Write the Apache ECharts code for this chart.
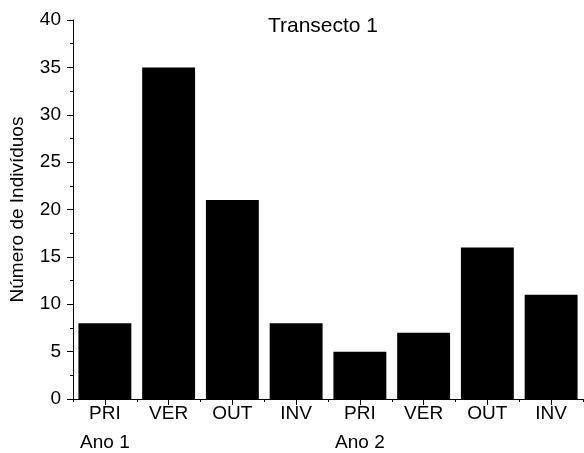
<!DOCTYPE html>
<html>
<head>
<meta charset="utf-8">
<script src="https://cdn.jsdelivr.net/npm/echarts@6/dist/echarts.min.js"></script>
<style>
  html, body { margin: 0; padding: 0; background: #fff; }
  #chart { width: 584px; height: 453px; }
</style>
</head>
<body>
<div id="chart"></div>
<script>
// Seasons sampled over two years at transect 1
const seasons = ['PRI', 'VER', 'OUT', 'INV', 'PRI', 'VER', 'OUT', 'INV'];
const yearLabels = ['Ano 1', '', '', '', 'Ano 2', '', '', ''];
const counts = [8, 35, 21, 8, 5, 7, 16, 11];
const yTicks = [0, 5, 10, 15, 20, 25, 30, 35, 40];

const FONT = 'Liberation Sans, Arial, sans-serif';
const chart = echarts.init(document.getElementById('chart'), null, { renderer: 'canvas' });

chart.setOption({
  animation: false,
  backgroundColor: '#ffffff',
  title: {
    text: 'Transecto 1',
    left: 318,
    top: 11,
    textAlign: 'center',
    textStyle: { fontFamily: FONT, fontSize: 21, fontWeight: 'normal', color: '#000' }
  },
  grid: { left: 72, right: 1, top: 20, bottom: 54, containLabel: false },
  xAxis: [
    {
      // season labels, ticks at category centres
      type: 'category',
      data: seasons,
      position: 'bottom',
      axisLine: { show: true, lineStyle: { color: '#000', width: 1 } },
      axisTick: { show: true, alignWithLabel: true, length: 6, lineStyle: { color: '#000' } },
      axisLabel: { color: '#000', fontFamily: FONT, fontSize: 19, margin: 5 },
      splitLine: { show: false }
    },
    {
      // short ticks on category boundaries
      type: 'category',
      data: seasons,
      position: 'bottom',
      axisLine: { show: false },
      axisTick: { show: true, alignWithLabel: false, length: 3, lineStyle: { color: '#000' } },
      axisLabel: { show: false },
      splitLine: { show: false }
    },
    {
      // year grouping labels
      type: 'category',
      data: yearLabels,
      position: 'bottom',
      offset: 26,
      axisLine: { show: false },
      axisTick: { show: false },
      axisLabel: { color: '#000', fontFamily: FONT, fontSize: 19, margin: 8, interval: 0 },
      splitLine: { show: false }
    }
  ],
  yAxis: {
    type: 'value',
    min: yTicks[0],
    max: yTicks[yTicks.length - 1],
    interval: yTicks[1] - yTicks[0],
    name: 'Número de Indivíduos',
    nameLocation: 'middle',
    nameGap: 46,
    nameTextStyle: { color: '#000', fontFamily: FONT, fontSize: 19 },
    axisLine: { show: true, lineStyle: { color: '#000', width: 1 } },
    axisTick: { show: true, length: 6, lineStyle: { color: '#000' } },
    minorTick: { show: true, splitNumber: 2, length: 3, lineStyle: { color: '#000' } },
    axisLabel: { color: '#000', fontFamily: FONT, fontSize: 19, margin: 12 },
    splitLine: { show: false }
  },
  series: [
    {
      type: 'bar',
      data: counts,
      xAxisIndex: 0,
      barWidth: '83%',
      itemStyle: { color: '#000' },
      silent: true
    }
  ]
});
</script>
</body>
</html>
